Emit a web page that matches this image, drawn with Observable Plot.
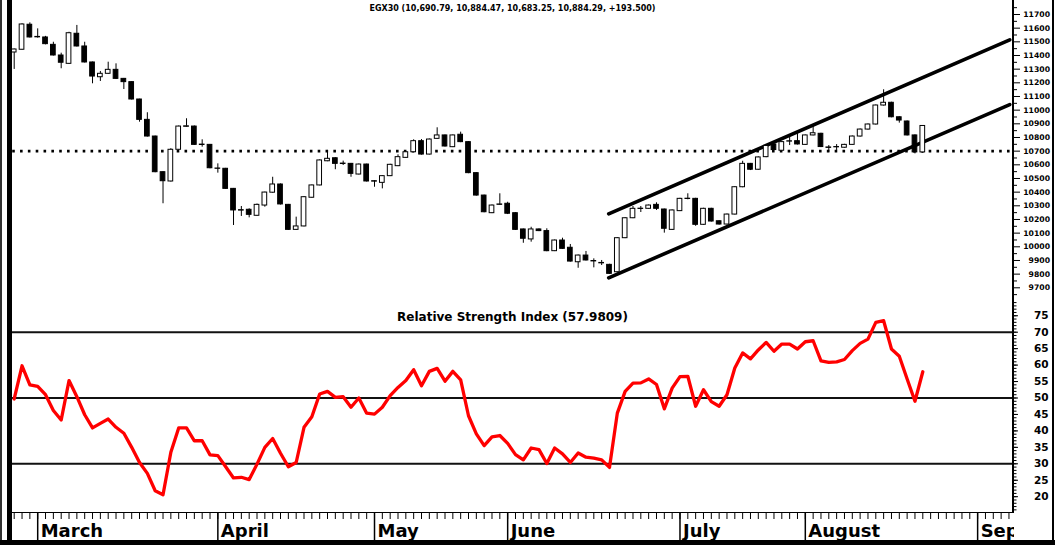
<!DOCTYPE html>
<html><head><meta charset="utf-8">
<script src="https://cdn.jsdelivr.net/npm/d3@7"></script>
<script src="https://cdn.jsdelivr.net/npm/@observablehq/plot@0.6"></script>
<style>
html,body{margin:0;padding:0;background:#fff;}
#chart{position:relative;width:1055px;height:545px;overflow:hidden;background:#fff;}
.panel{position:absolute;left:0;}
.bar{position:absolute;background:#000;}
</style></head><body>
<div id="chart"></div>
<script>
// ---- data (trading-day index 0..116) ----
const opens = [11422,11442,11625,11536,11532,11478,11400,11339,11559,11466,
11349,11241,11266,11295,11229,11205,11078,10929,10807,10546,
10478,10710,10878,10880,10748,10746,10573,10571,10424,10268,
10271,10227,10302,10396,10456,10307,10124,10149,10359,10449,
10626,10648,10609,10607,10529,10602,10480,10468,10517,10590,
10651,10692,10773,10675,10790,10815,10729,10820,10766,10539,
10375,10246,10307,10315,10246,10127,10054,10127,10115,9968,
10046,9993,9887,9936,9896,9882,9868,9814,10063,10209,
10279,10278,10307,10273,10124,10261,10352,10351,10161,10278,
10187,10163,10236,10436,10607,10564,10656,10749,10703,10772,
10773,10746,10815,10827,10727,10730,10725,10746,10807,10858,
10895,11034,11054,10948,10917,10815,10690.79];
const highs = [11447,11632,11639,11595,11540,11497,11417,11570,11620,11497,
11352,11283,11351,11339,11232,11208,11080,10981,10810,10549,
10718,10884,10937,10884,10783,10749,10607,10574,10427,10295,
10278,10313,10400,10509,10460,10310,10217,10367,10452,10636,
10705,10652,10627,10610,10606,10605,10483,10520,10604,10673,
10696,10783,10785,10789,10871,10818,10818,10839,10769,10542,
10378,10306,10388,10326,10249,10130,10143,10131,10132,10050,
10063,10017,9940,9966,9912,9900,9872,10067,10213,10295,
10295,10306,10322,10276,10270,10355,10388,10355,10282,10282,
10190,10240,10440,10626,10610,10658,10742,10752,10770,10802,
10839,10818,10880,10831,10741,10748,10750,10811,10862,10899,
11038,11149,11058,10951,10921,10819,10884.47];
const lows = [11298,11440,11528,11527,11478,11396,11303,11335,11462,11345,
11193,11210,11262,11224,11151,11074,10912,10803,10542,10315,
10474,10706,10874,10742,10729,10571,10539,10420,10156,10222,
10212,10224,10290,10392,10306,10120,10120,10146,10356,10446,
10623,10564,10595,10509,10526,10474,10436,10424,10514,10587,
10648,10689,10671,10672,10787,10730,10726,10762,10535,10371,
10249,10243,10303,10236,10120,10026,10034,10111,9964,9965,
9981,9888,9843,9896,9846,9863,9798,9810,10060,10206,
10251,10275,10266,10100,10120,10258,10344,10150,10158,10181,
10159,10160,10233,10432,10558,10560,10652,10704,10700,10741,
10745,10743,10812,10726,10692,10705,10722,10743,10803,10854,
10891,11030,10944,10905,10811,10680,10683.25];
const closes = [11444,11627,11532,11533,11483,11400,11347,11563,11466,11349,
11246,11266,11295,11229,11205,11078,10929,10807,10546,10480,
10710,10880,10882,10746,10745,10575,10571,10424,10266,10265,
10234,10307,10397,10456,10310,10124,10149,10363,10449,10632,
10644,10607,10606,10534,10602,10478,10477,10517,10600,10656,
10692,10773,10675,10785,10815,10734,10815,10766,10539,10375,
10253,10302,10310,10242,10124,10059,10127,10115,9968,10046,
9985,9892,9936,9900,9893,9879,9802,10063,10209,10278,
10277,10302,10278,10132,10266,10351,10350,10161,10278,10185,
10163,10236,10436,10607,10564,10654,10738,10708,10766,10770,
10749,10815,10831,10730,10724,10728,10746,10807,10858,10895,
11034,11054,10948,10924,10815,10690.79,10884.29];
const rsiValues = [49.7,59.8,54,53.5,51,46.2,43.3,55.3,50.4,44.9,
40.9,42.3,43.6,41.1,39.3,35,30.4,27.1,21.8,20.6,
33.5,40.9,40.9,37,37,32.7,32.5,29.1,25.7,25.9,
25.2,29.9,35,37.7,33.2,29.1,30.4,41.1,44.3,51.2,
52,50.2,50.4,47.2,50,45.4,45.1,47.2,50.7,53.2,
55.3,58.6,53.7,58.1,59,55.1,58.1,55.5,44.6,39.1,
35.5,38.2,38.6,36.2,32.8,31.2,34.8,34.3,30.1,34.8,
33,30.4,33.3,32,31.7,31.2,28.9,45.4,52,54.5,
54.6,55.8,54.1,46.7,53,56.5,56.6,47.5,52.5,48.9,
47.5,51,59.1,63.7,61.9,64.6,66.9,64.2,66.4,66.4,
64.9,67.1,67.4,61.3,60.8,61,61.7,64.4,66.6,67.9,
73,73.5,64.9,62.7,55.8,49,57.9809];
const monthStarts = [3, 26, 46, 63, 85, 101, 123];
const monthNames = ["March", "April", "May", "June", "July", "August", "September"];
const dayTicks = d3.range(0, 128);
const priceTicks = d3.range(9700, 11701, 100);
const priceMinorTicks = d3.range(9650, 11751, 100);
const rsiTicks = d3.range(20, 76, 5);
const rsiMinorTicks = d3.range(16, 80, 1);
const rsiLevels = [30, 50, 70];
const referenceLevel = [10700];
const channelStart = [75.9, 75.9], channelEnd = [127.1, 127.1];
const channelFrom = [10241, 9773], channelTo = [11515, 11041];
const titleText = "EGX30 (10,690.79, 10,884.47, 10,683.25, 10,884.29, +193.500)";
const rsiTitle = "Relative Strength Index (57.9809)";

// ---- build tables ----
const candles = opens.map((o, i) => ({i, o, h: highs[i], l: lows[i], c: closes[i]}));
const channel = channelStart.map((s, k) => ({x1: s, x2: channelEnd[k], y1: channelFrom[k], y2: channelTo[k]}));
const rsi = rsiValues.map((v, i) => ({i, v}));

const xScale = {type: "linear", domain: [0, 116], range: [13.7, 922.3]};
const font = "DejaVu Sans";
const root = document.getElementById("chart");
function place(svg, top) {
  const d = document.createElement("div");
  d.className = "panel"; d.style.top = top + "px";
  d.appendChild(svg); root.appendChild(d);
}

// ---- price panel ----
const price = Plot.plot({
  width: 1055, height: 300, marginLeft: 11, marginRight: 42, marginTop: 0, marginBottom: 0,
  style: {background: "transparent", overflow: "visible"},
  x: {...xScale, axis: null},
  y: {domain: [9700, 11700], range: [287.3, 14], label: null},
  marks: [
    Plot.ruleY(referenceLevel, {stroke: "#000", strokeWidth: 2.6, strokeDasharray: "2.6,5.233", strokeDashoffset: -1.2}),
    Plot.link(channel, {x1: "x1", y1: "y1", x2: "x2", y2: "y2", stroke: "#000", strokeWidth: 3.6, strokeLinecap: "round"}),
    Plot.ruleX(candles, {x: "i", y1: "l", y2: "h", stroke: "#000", strokeWidth: 1}),
    Plot.rect(candles, {filter: d => d.c >= d.o, x1: d => d.i - 0.3, x2: d => d.i + 0.3, y1: "o", y2: "c", fill: "#fff", stroke: "#000", strokeWidth: 1}),
    Plot.rect(candles, {filter: d => d.c < d.o, x1: d => d.i - 0.3, x2: d => d.i + 0.3, y1: "o", y2: "c", fill: "#000", stroke: "#000", strokeWidth: 1}),
    Plot.axisY(priceMinorTicks, {anchor: "right", tickSize: 3, tickFormat: () => "", label: null, stroke: "#000"}),
    Plot.axisY(priceTicks, {anchor: "right", tickSize: 6, tickFormat: () => "", label: null, stroke: "#000"}),
    Plot.text(priceTicks, {y: d => d, text: d => String(d), frameAnchor: "right", dx: 36.5, textAnchor: "end",
      fontFamily: font, fontWeight: "bold", fontSize: 7.7, fill: "#000"}),
    Plot.text([titleText], {text: d => d, frameAnchor: "top", dy: 4.7, fontFamily: font, fontWeight: "bold", fontSize: 8, fill: "#000"})
  ]
});
place(price, 0);

// ---- RSI panel ----
const rsiPlot = Plot.plot({
  width: 1055, height: 212, marginLeft: 11, marginRight: 42, marginTop: 0, marginBottom: 0,
  style: {background: "transparent", overflow: "visible"},
  x: {...xScale, axis: null},
  y: {domain: [30, 70], range: [163.3, 31.7], label: null},
  marks: [
    Plot.ruleY(rsiLevels, {stroke: "#111", strokeWidth: 2}),
    Plot.line(rsi, {x: "i", y: "v", stroke: "#ff0000", strokeWidth: 3.3, strokeLinejoin: "round", strokeLinecap: "round"}),
    Plot.axisY(rsiMinorTicks, {anchor: "right", tickSize: 2.5, tickFormat: () => "", label: null, stroke: "#000"}),
    Plot.axisY(rsiTicks, {anchor: "right", tickSize: 4, tickFormat: () => "", label: null, stroke: "#000"}),
    Plot.text(rsiTicks, {y: d => d, text: d => String(d), frameAnchor: "right", dx: 35, textAnchor: "end",
      fontFamily: font, fontWeight: "bold", fontSize: 10.5, fill: "#000"}),
    Plot.text([rsiTitle], {text: d => d, frameAnchor: "top", dy: 12.2, fontFamily: font, fontWeight: "bold", fontSize: 12, fill: "#000"})
  ]
});
place(rsiPlot, 300);

// ---- date row ----
const dates = Plot.plot({
  width: 1014, height: 28, marginLeft: 11, marginRight: 1, marginTop: 0, marginBottom: 0,
  style: {background: "transparent", overflow: "hidden"},
  x: {...xScale, axis: null},
  marks: [
    Plot.frame({anchor: "top", stroke: "#000", strokeWidth: 1}),
    Plot.ruleX(dayTicks, {x: d => d, insetBottom: 21, stroke: "#000", strokeWidth: 1}),
    Plot.ruleX(monthStarts, {x: d => d, stroke: "#000", strokeWidth: 1.5}),
    Plot.text(monthStarts, {x: d => d, text: (d, i) => monthNames[i], textAnchor: "start", dx: 3, dy: 5.2,
      fontFamily: font, fontWeight: "bold", fontSize: 18, fill: "#000"})
  ]
});
place(dates, 512);

// ---- frame decorations ----
function bar(l, t, w, h, c) {
  const d = document.createElement("div");
  d.className = "bar";
  Object.assign(d.style, {left: l + "px", top: t + "px", width: w + "px", height: h + "px", background: c || "#000"});
  root.appendChild(d);
}
bar(0, 0, 2, 545, "#333");
bar(6.5, 0, 5, 545);
bar(1012.3, 0, 1.6, 512);
bar(1052.3, 0, 1.5, 545);
bar(0, 539.5, 1055, 5.5);
</script>
</body></html>
